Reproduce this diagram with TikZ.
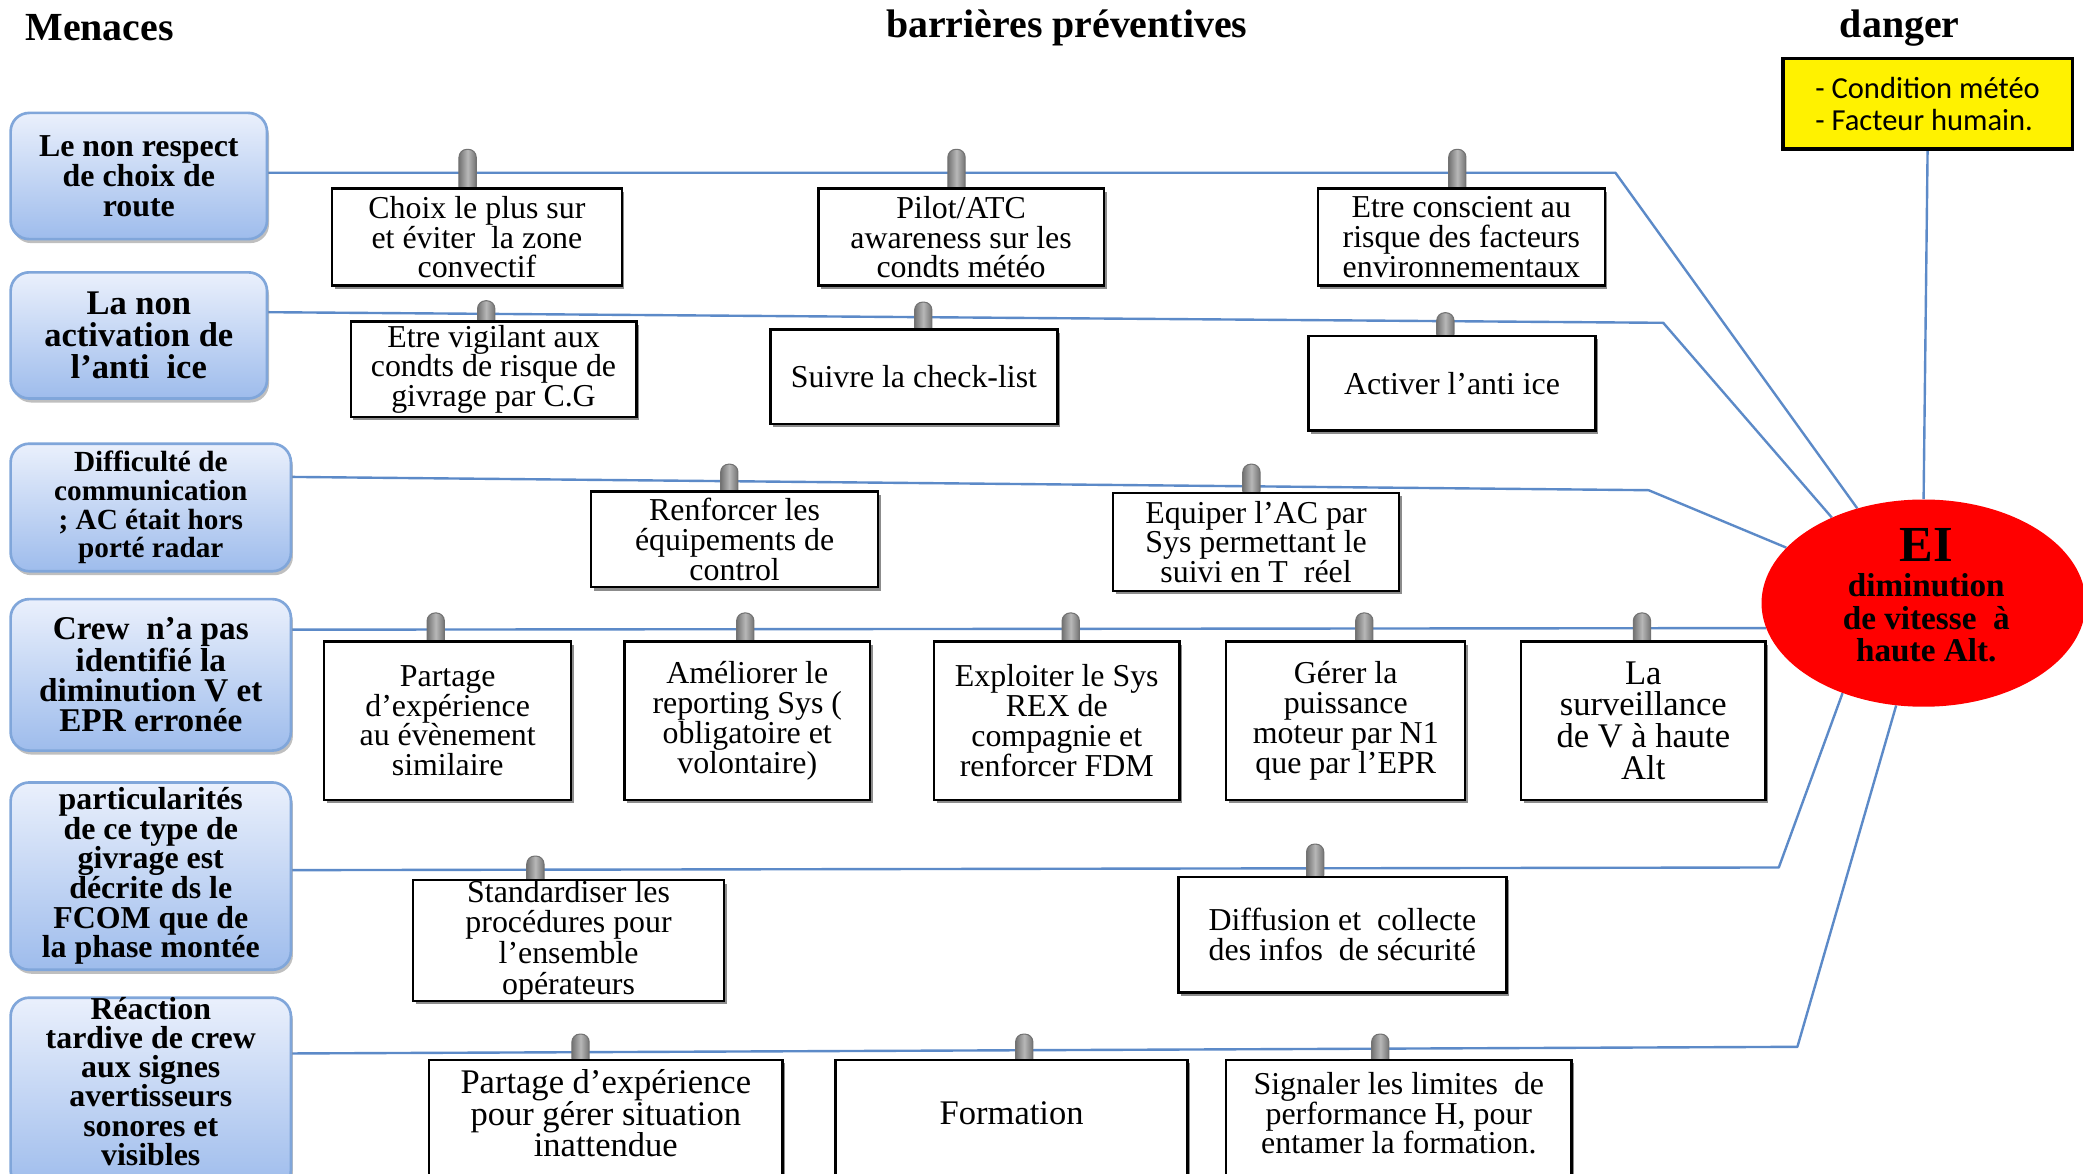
\documentclass[tikz,border=0pt]{standalone}
\usepackage{fontspec}
\setmainfont{Liberation Serif}
\newfontfamily\calib{Carlito}
\usetikzlibrary{shapes.geometric,shadows}
\pgfdeclarelayer{wires}
\pgfdeclarelayer{pegs}
\pgfsetlayers{wires,pegs,main}

\newcommand\fsz[2]{\fontsize{#1}{#2}\selectfont}

\definecolor{wireblue}{RGB}{92,138,200}
\definecolor{thrtop}{RGB}{234,240,252}
\definecolor{thrbot}{RGB}{158,188,236}
\definecolor{thredge}{RGB}{128,166,218}

\tikzset{
  threat/.style={rounded corners=14pt, draw=thredge, line width=2pt,
    top color=thrtop, bottom color=thrbot, align=center, inner sep=0pt, text=black,
    drop shadow={shadow xshift=1.5pt, shadow yshift=-3pt, fill=black, opacity=0.25}},
  barrier/.style={draw=black, line width=1.8pt, fill=white, align=center, inner sep=0pt, text=black,
    drop shadow={shadow xshift=2pt, shadow yshift=-2.5pt, fill=black, opacity=0.45}},
  caption/.style={align=center, inner sep=0pt, text=black},
  peg/.style={anchor=north, rounded corners=6pt, minimum width=13pt, inner sep=0pt,
    draw=black!55, line width=0.8pt, left color=black!55, right color=black!55, middle color=black!28},
  wire/.style={draw=wireblue, line width=1.8pt, line join=round},
  title/.style={font=\fsz{30}{32}\bfseries, inner sep=0pt, text=black},
  txt/.style={font=\fsz{24}{22.5}},
}

\begin{document}
\begin{tikzpicture}[x=1pt,y=-1pt]
\useasboundingbox (0,0) rectangle (1568,883);

% column headings
\node[title] (hMen) at (75,21) {Menaces};
\node[title] (hBar) at (803,21) {barrières préventives};
\node[title] (hDan) at (1430,21) {danger};

% hazard and top event
\node[draw=black, line width=2.8pt, fill=yellow, minimum width=218pt, minimum height=68pt,
      inner sep=0pt, align=left, text=black, font=\calib\fsz{23}{24}] (dg) at (1451,78)
      {- Condition météo\\- Facteur humain.};
\node[ellipse, fill=red, minimum width=244pt, minimum height=156pt, inner sep=0pt] (ei) at (1448,454) {};
\node[caption, font=\fsz{38}{40}\bfseries] (eiT) at (1450,410) {EI};
\node[caption, font=\fsz{25}{24.5}\bfseries] (eiD) at (1450,465) {diminution\\de vitesse\ \ à\\haute Alt.};

% threats
\node[threat, minimum width=193pt, minimum height=95pt, font=\fsz{24}{22.5}\bfseries] (t1) at (104.5,132.5)
  {Le non respect\\de choix de\\route};
\node[threat, minimum width=193pt, minimum height=95pt, font=\fsz{26}{24}\bfseries] (t2) at (104.5,252.5)
  {La non\\activation de\\l’anti\ \ ice};
\node[threat, minimum width=211pt, minimum height=96pt, font=\fsz{22}{21.7}\bfseries] (t3) at (113.5,382)
  {Difficulté de\\communication\\; AC était hors\\porté radar};
\node[threat, minimum width=211pt, minimum height=114pt, font=\fsz{25}{22.7}\bfseries] (t4) at (113.5,508)
  {Crew\ \ n’a pas\\identifié la\\diminution V et\\EPR erronée};
\node[threat, minimum width=211pt, minimum height=141pt, font=\fsz{24}{22.3}\bfseries] (t5) at (113.5,659.5)
  {particularités\\de ce type de\\givrage est\\décrite ds le\\FCOM que de\\la phase montée};
\node[threat, minimum width=211pt, minimum height=144pt] (t6) at (113.5,823) {};
\node[caption, font=\fsz{24}{22}\bfseries] (t6x) at (113.5,814)
  {Réaction\\tardive de crew\\aux signes\\avertisseurs\\sonores et\\visibles};

% barriers, first threat line
\node[barrier, txt, minimum width=218pt, minimum height=73pt] (b11) at (359,178.5)
  {Choix le plus sur\\et éviter\ \ la zone\\convectif};
\node[barrier, txt, minimum width=215pt, minimum height=73pt] (b12) at (723.5,178.5)
  {Pilot/ATC\\awareness sur les\\condts météo};
\node[barrier, txt, minimum width=216pt, minimum height=73pt] (b13) at (1100,178.5)
  {Etre conscient au\\risque des facteurs\\environnementaux};
% second line
\node[barrier, txt, minimum width=215pt, minimum height=72pt] (b21) at (371.5,278)
  {Etre vigilant aux\\condts de risque de\\givrage par C.G};
\node[barrier, txt, minimum width=216pt, minimum height=71pt] (b22) at (688,283.5)
  {Suivre la check-list};
\node[barrier, txt, minimum width=216pt, minimum height=71pt] (b23) at (1093,288.5)
  {Activer l’anti ice};
% third line
\node[barrier, txt, minimum width=216pt, minimum height=72pt] (b31) at (553,406)
  {Renforcer les\\équipements de\\control};
\node[barrier, txt, minimum width=215pt, minimum height=74pt] (b32) at (945.5,408)
  {Equiper l’AC par\\Sys permettant le\\suivi en T\ \ réel};
% fourth line
\node[barrier, txt, minimum width=186pt, minimum height=119pt] (b41) at (337,542.5)
  {Partage\\d’expérience\\au évènement\\similaire};
\node[barrier, txt, minimum width=185pt, minimum height=119pt] (b42) at (562.5,542.5)
  {Améliorer le\\reporting Sys (\\obligatoire et\\volontaire)};
\node[barrier, txt, minimum width=185pt, minimum height=119pt] (b43) at (795.5,542.5)
  {Exploiter le Sys\\REX de\\compagnie et\\renforcer FDM};
\node[barrier, txt, minimum width=180pt, minimum height=119pt] (b44) at (1013,542.5)
  {Gérer la\\puissance\\moteur par N1\\que par l’EPR};
\node[barrier, font=\fsz{26}{24}, minimum width=184pt, minimum height=119pt] (b45) at (1237,542.5)
  {La\\surveillance\\de V à haute\\Alt};
% fifth line
\node[barrier, font=\fsz{24}{23}, minimum width=234pt, minimum height=86pt] (b51) at (428,708)
  {Standardiser les\\procédures pour\\l’ensemble\\opérateurs};
\node[barrier, txt, minimum width=247pt, minimum height=87pt] (b52) at (1010.5,703.5)
  {Diffusion et\ \ collecte\\des infos\ \ de sécurité};
% sixth line
\node[barrier, minimum width=266pt, minimum height=96pt] (b61) at (456,846) {};
\node[caption, font=\fsz{26}{24}] (b61x) at (456,838)
  {Partage d’expérience\\pour gérer situation\\inattendue};
\node[barrier, minimum width=265pt, minimum height=96pt] (b62) at (761.5,846) {};
\node[caption, font=\fsz{26}{24}] (b62x) at (761.5,838) {Formation};
\node[barrier, minimum width=260pt, minimum height=96pt] (b63) at (1053,846) {};
\node[caption, txt] (b63x) at (1053,838)
  {Signaler les limites\ \ de\\performance H, pour\\entamer la formation.};

% pegs holding each barrier on its line
\begin{pgfonlayer}{pegs}
  \node[peg, minimum height=34pt] (p11) at (352,112) {};
  \node[peg, minimum height=34pt] (p12) at (720,112) {};
  \node[peg, minimum height=34pt] (p13) at (1097,112) {};
  \node[peg, minimum height=20pt] (p21) at (366,226) {};
  \node[peg, minimum height=25pt] (p22) at (695,227) {};
  \node[peg, minimum height=22pt] (p23) at (1088,235) {};
  \node[peg, minimum height=25pt] (p31) at (549,349) {};
  \node[peg, minimum height=26pt] (p32) at (942,349) {};
  \node[peg, minimum height=26pt] (p41) at (328,461) {};
  \node[peg, minimum height=26pt] (p42) at (561,461) {};
  \node[peg, minimum height=26pt] (p43) at (806,461) {};
  \node[peg, minimum height=26pt] (p44) at (1027,461) {};
  \node[peg, minimum height=26pt] (p45) at (1236,461) {};
  \node[peg, minimum height=25pt] (p51) at (403,644) {};
  \node[peg, minimum height=29pt] (p52) at (990,635) {};
  \node[peg, minimum height=24pt] (p61) at (437,778) {};
  \node[peg, minimum height=24pt] (p62) at (771,778) {};
  \node[peg, minimum height=24pt] (p63) at (1039,778) {};
\end{pgfonlayer}

% threat lines running to the top event
\begin{pgfonlayer}{wires}
  \fill[white] (0,0) rectangle (1568,883);
  \coordinate (k1) at (1216,130);
  \coordinate (k2) at (1252,243);
  \coordinate (k3) at (1241,369);
  \coordinate (k5) at (1339,653);
  \coordinate (k6) at (1353,788);
  \draw[wire] ([yshift=2.5pt]t1.east) -- (k1) -- (ei.125.8);
  \draw[wire] ([yshift=17.5pt]t2.east) -- (k2) -- (ei.137.6);
  \draw[wire] ([yshift=23pt]t3.east) -- (k3) -- (ei.158.9);
  \draw[wire] ([yshift=34pt]t4.east) -- (ei.189.6);
  \draw[wire] ([yshift=4.5pt]t5.east) -- (k5) -- (ei.228.6);
  \draw[wire] ([yshift=30pt]t6.east) -- (k6) -- (ei.255.6);
  \draw[wire] (dg.south) -- (ei.north);
\end{pgfonlayer}
\end{tikzpicture}
\end{document}
